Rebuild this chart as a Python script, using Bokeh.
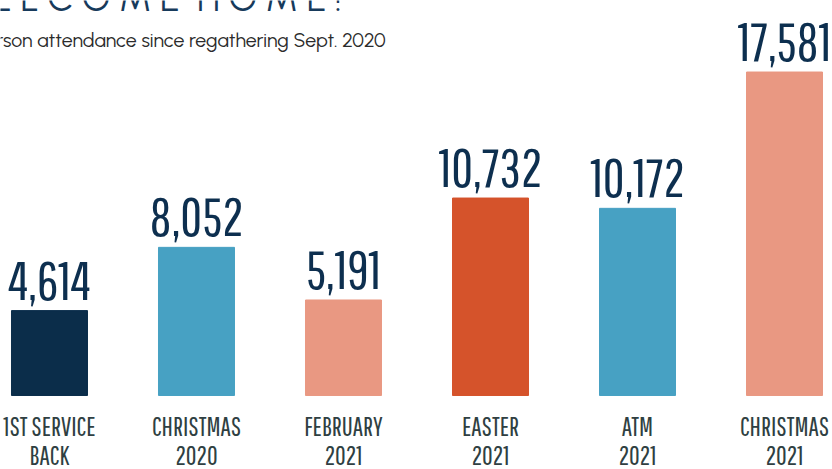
from bokeh.plotting import figure
from bokeh.models import Range1d, Label, ColumnDataSource
from bokeh.core.properties import value
from bokeh.embed import file_html
from bokeh.resources import INLINE

# ---- data ----
cat_line1 = ["1ST SERVICE", "CHRISTMAS", "FEBRUARY", "EASTER", "ATM", "CHRISTMAS"]
cat_line2 = ["BACK", "2020", "2021", "2021", "2021", "2021"]
attendance = [4614, 8052, 5191, 10732, 10172, 17581]
bar_colors = ["#0b2d4a", "#47a1c3", "#e99882", "#d5532b", "#47a1c3", "#e99882"]
title_text = "W E L C O M E\u00a0 H O M E !"
subtitle_text = "In-person attendance since regathering Sept. 2020"

W, H = 832, 469
idx = list(range(len(attendance)))
labels = [f"{v:,}" for v in attendance]

src = ColumnDataSource(dict(x=idx, top=attendance, color=bar_colors, label=labels,
                            l1=cat_line1, l2=cat_line2, zero=[0] * len(idx)))

p = figure(width=W, height=H, output_backend="svg", toolbar_location=None,
           x_range=Range1d(-0.3333, 5.3265), y_range=Range1d(-4022, 21468),
           min_border=0, outline_line_color=None)
p.xaxis.visible = False
p.yaxis.visible = False
p.xgrid.visible = False
p.ygrid.visible = False
p.background_fill_color = "white"
p.border_fill_color = "white"

p.vbar(x="x", top="top", bottom=0, width=0.517, color="color", source=src)

cond = value("Pathway Gothic One")

p.text(x="x", y="top", text="label", source=src, text_align="center",
       text_baseline="alphabetic", y_offset=-30, text_font=cond,
       text_font_size="53px", text_color="#0d2f4f")

p.text(x="x", y="zero", text="l1", source=src, text_align="center",
       text_baseline="alphabetic", y_offset=31, text_font=cond,
       text_font_size="26px", text_color="#2f3f42")
p.text(x="x", y="zero", text="l2", source=src, text_align="center",
       text_baseline="alphabetic", y_offset=60, text_font=cond,
       text_font_size="26px", text_color="#2f3f42")

title = Label(x=-48, y=H + 3, x_units="screen", y_units="screen", text=title_text,
              text_font="Urbanist", text_font_size="36.5px", text_color="#173a5b",
              text_baseline="alphabetic", text_align="left")
sub = Label(x=-50, y=H - 39, x_units="screen", y_units="screen", text=subtitle_text,
            text_font="Urbanist", text_font_size="19.5px", text_color="#2b2b2b",
            text_baseline="alphabetic", text_align="left")
p.add_layout(title)
p.add_layout(sub)

open("out.html", "w").write(file_html(p, INLINE))
